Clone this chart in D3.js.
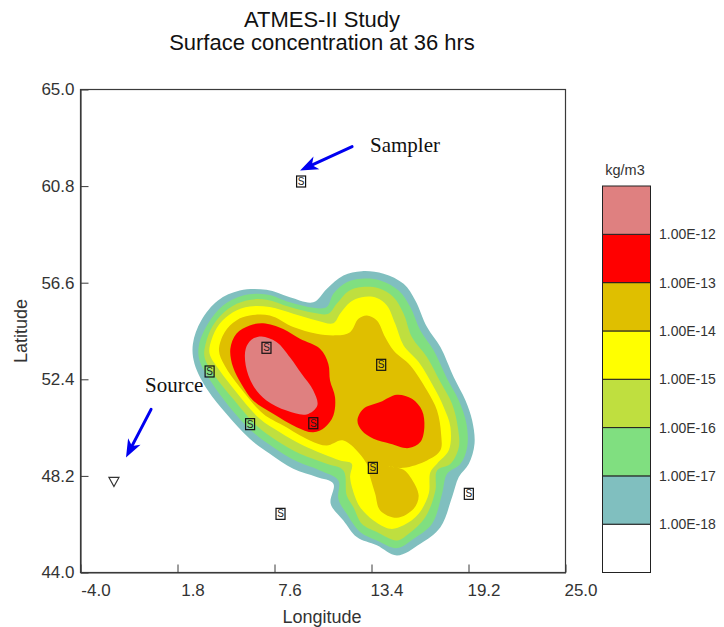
<!DOCTYPE html>
<html><head><meta charset="utf-8">
<script src="https://cdn.jsdelivr.net/npm/d3@7"></script>
<style>html,body{margin:0;background:#fff}svg{display:block}</style></head>
<body><svg id="c" width="724" height="627"></svg>
<script>
const lonTicks=[-4,1.8,7.6,13.4,19.2,25];
const latTicks=[44,48.2,52.4,56.6,60.8,65];
const levelColors=["#ffffff","#80bfbf","#80df80","#bfdf3f","#ffff00","#dfbf00","#ff0000","#df8080"];
const levelLabels=["1.00E-18","1.00E-17","1.00E-16","1.00E-15","1.00E-14","1.00E-13","1.00E-12"];
const contour18=[[12.82,57.10],[14.12,56.99],[15.32,56.55],[16.02,55.83],[16.72,54.67],[17.52,53.80],[18.32,52.49],[19.02,51.48],[19.42,50.61],[19.56,49.60],[19.22,48.73],[18.62,48.15],[18.22,47.28],[17.52,45.97],[16.32,45.25],[14.92,44.74],[13.72,45.18],[12.52,45.54],[11.72,46.26],[10.96,46.99],[11.12,47.86],[10.12,48.15],[8.72,48.51],[7.32,49.16],[6.12,49.81],[4.72,50.90],[3.62,51.91],[2.82,53.07],[2.72,53.94],[3.22,54.96],[4.22,55.83],[5.52,56.26],[7.12,56.29],[8.52,55.97],[9.92,55.75],[10.72,56.33],[11.72,56.91]];
const contour17=[[12.82,56.77],[13.92,56.70],[15.02,56.26],[15.72,55.54],[16.32,54.52],[17.12,53.65],[17.92,52.42],[18.62,51.48],[19.08,50.46],[19.12,49.45],[18.72,48.73],[17.92,48.29],[17.62,47.42],[17.02,46.12],[15.92,45.47],[14.92,45.06],[13.72,45.39],[12.72,45.76],[11.92,46.55],[11.42,47.20],[11.42,48.00],[10.32,48.44],[8.92,48.84],[7.52,49.45],[6.32,50.10],[4.92,51.19],[3.82,52.28],[3.12,53.22],[3.08,53.87],[3.62,54.81],[4.52,55.61],[5.72,56.04],[7.12,56.09],[8.52,55.75],[9.92,55.51],[10.72,55.54],[11.12,56.12],[11.92,56.62]];
const contour16=[[12.82,56.41],[13.82,56.36],[14.72,55.97],[15.32,55.25],[15.82,54.23],[16.72,53.36],[17.52,52.28],[18.22,51.33],[18.56,50.32],[18.62,49.45],[18.12,48.73],[17.32,48.44],[17.22,47.57],[16.62,46.41],[15.62,45.68],[14.92,45.39],[13.72,45.76],[12.82,46.12],[12.32,46.84],[11.92,47.35],[11.72,48.44],[10.72,48.73],[9.12,49.16],[7.72,49.74],[6.52,50.39],[5.12,51.55],[4.02,52.57],[3.42,53.36],[3.48,53.94],[3.92,54.74],[4.82,55.46],[5.92,55.83],[7.12,55.86],[8.52,55.54],[9.92,55.29],[10.82,55.25],[11.32,55.68],[12.02,56.23]];
const contour15=[[12.82,55.97],[13.72,55.94],[14.32,55.61],[14.82,54.81],[15.32,53.87],[16.22,53.15],[17.12,52.06],[17.72,51.19],[18.12,50.32],[18.02,49.31],[17.32,48.73],[16.92,48.36],[16.82,47.42],[16.22,46.55],[15.32,46.05],[14.52,45.90],[13.52,46.26],[12.72,46.84],[12.42,47.28],[12.12,48.15],[12.22,48.73],[11.52,48.87],[9.32,49.52],[7.92,50.10],[6.72,50.68],[5.32,51.84],[4.32,52.78],[3.72,53.51],[3.82,54.09],[4.32,54.81],[5.12,55.32],[6.12,55.57],[7.32,55.54],[8.72,55.25],[10.12,54.96],[11.12,54.84],[11.52,55.25],[12.12,55.75]];
const contour14=[[13.12,55.17],[13.72,54.96],[14.22,54.23],[14.72,53.65],[15.72,53.00],[16.72,51.91],[17.32,51.04],[17.56,50.03],[17.52,49.31],[16.72,48.87],[15.32,48.55],[14.42,48.62],[15.32,48.47],[15.72,48.15],[16.22,47.35],[15.92,46.77],[14.92,46.38],[13.92,46.70],[13.62,47.42],[13.32,48.15],[13.12,48.73],[11.72,49.74],[10.72,49.52],[9.72,49.74],[8.12,50.39],[6.92,50.90],[5.52,52.06],[4.62,53.00],[4.28,53.65],[4.62,54.45],[5.32,54.96],[6.12,55.17],[7.32,55.17],[8.72,54.67],[10.12,54.38],[11.32,54.31],[12.12,54.45],[12.62,55.03]];
const contour13a=[[6.92,54.84],[8.12,54.59],[9.12,54.16],[10.32,53.73],[10.82,53.07],[10.92,52.35],[11.22,51.62],[11.12,50.83],[10.62,50.32],[9.92,50.10],[8.92,50.32],[7.52,50.90],[6.32,51.48],[5.62,52.20],[5.12,52.93],[4.96,53.73],[5.32,54.38],[6.12,54.74]];
const contour13b=[[14.92,51.73],[15.82,51.55],[16.42,51.04],[16.56,50.32],[16.32,49.67],[15.62,49.41],[14.52,49.60],[13.52,49.81],[12.82,50.17],[12.56,50.61],[12.92,51.12],[13.92,51.41]];
const contour12=[[6.82,54.26],[7.72,54.02],[8.52,53.36],[9.22,52.64],[9.92,51.91],[10.16,51.26],[9.52,50.87],[8.32,51.04],[7.12,51.48],[6.32,52.13],[5.88,53.00],[5.88,53.73],[6.22,54.12]];
const samplers=[[9.19,61.0],[7.12,53.77],[3.72,52.74],[13.98,53.03],[6.14,50.45],[9.92,50.49],[13.48,48.55],[19.22,47.42],[7.96,46.55]];
const source=[-2.0,47.96];
const samplerArrow=[[12.24,62.52],[9.13,61.48]];
const sourceArrow=[[0.22,51.09],[-1.28,49.0]];

const svg=d3.select("#c");
const x=d3.scaleLinear().domain([-4,25]).range([80.5,565.5]);
const y=d3.scaleLinear().domain([44,65]).range([572.5,89.5]);
const ink="#3a3a3a";
const txt="#333";
const sans="'Liberation Sans',Arial,sans-serif";
const serif="'Liberation Serif','Times New Roman',serif";

svg.append("g").attr("font-family",sans).attr("fill","#111").attr("text-anchor","middle").attr("font-size",22)
  .selectAll("text").data(["ATMES-II Study","Surface concentration at 36 hrs"]).join("text")
  .attr("x",322).attr("y",(d,i)=>27+i*23).text(d=>d);

const line=d3.line().x(d=>x(d[0])).y(d=>y(d[1])).curve(d3.curveCatmullRomClosed.alpha(0.5));
const layers=[[contour18,1],[contour17,2],[contour16,3],[contour15,4],[contour14,5],[contour13a,6],[contour13b,6],[contour12,7]];
svg.append("g").selectAll("path").data(layers).join("path")
  .attr("d",d=>line(d[0])).attr("fill",d=>levelColors[d[1]]);

svg.append("rect").attr("x",x(-4)).attr("y",y(65)).attr("width",x(25)-x(-4)).attr("height",y(44)-y(65))
  .attr("fill","none").attr("stroke",ink).attr("stroke-width",1.2);

const fmt=d=>d.toFixed(1);
const gx=svg.append("g").attr("transform",`translate(0,${y(44)})`)
  .call(d3.axisBottom(x).tickValues(lonTicks).tickFormat(fmt).tickSizeInner(-8).tickSizeOuter(0));
gx.selectAll("text").attr("dx",15).attr("y",11);
const gy=svg.append("g").attr("transform",`translate(${x(-4)},0)`)
  .call(d3.axisLeft(y).tickValues(latTicks).tickFormat(fmt).tickSizeInner(-8).tickSizeOuter(0));
gy.selectAll("text").attr("x",-6);
svg.selectAll(".domain").attr("stroke",ink).attr("stroke-width",1.2);
svg.selectAll(".tick line").attr("stroke",ink);
svg.selectAll(".tick text").attr("font-family",sans).attr("font-size",17).attr("fill",txt);

svg.append("text").attr("x",322).attr("y",623).attr("text-anchor","middle").attr("font-family",sans).attr("font-size",18).attr("fill",txt).text("Longitude");
svg.append("text").attr("transform","translate(27,331) rotate(-90)").attr("text-anchor","middle").attr("font-family",sans).attr("font-size",18).attr("fill",txt).text("Latitude");

const sam=svg.append("g").selectAll("g").data(samplers).join("g")
  .attr("transform",d=>`translate(${x(d[0])},${y(d[1])})`);
sam.append("rect").attr("x",-4.5).attr("y",-5.5).attr("width",9).attr("height",11).attr("fill","none").attr("stroke","#111").attr("stroke-width",1.2);
sam.append("text").attr("text-anchor","middle").attr("y",3.5).attr("font-family",sans).attr("font-size",10).attr("fill","#222").text("S");

svg.append("path").datum(source).attr("transform",d=>`translate(${x(d[0])},${y(d[1])})`)
  .attr("d","M-5,-4H5L0,5Z").attr("fill","#fff").attr("stroke","#333").attr("stroke-width",1.2);

function arrow(a){
  const x0=x(a[0][0]),y0=y(a[0][1]),x1=x(a[1][0]),y1=y(a[1][1]);
  const ang=Math.atan2(y1-y0,x1-x0),L=18,W=7,N=13;
  const ux=Math.cos(ang),uy=Math.sin(ang);
  svg.append("line").attr("x1",x0).attr("y1",y0).attr("x2",x1-ux*8).attr("y2",y1-uy*8).attr("stroke","#0000f0").attr("stroke-width",3).attr("stroke-linecap","round");
  const pts=[[x1,y1],[x1-ux*L-uy*W,y1-uy*L+ux*W],[x1-ux*N,y1-uy*N],[x1-ux*L+uy*W,y1-uy*L-ux*W]];
  svg.append("path").attr("d","M"+pts.map(p=>p.join(",")).join("L")+"Z").attr("fill","#0000f0");
}
arrow(samplerArrow);arrow(sourceArrow);
svg.append("text").attr("x",370).attr("y",152).attr("font-family",serif).attr("font-size",21).attr("fill","#111").text("Sampler");
svg.append("text").attr("x",145).attr("y",392).attr("font-family",serif).attr("font-size",21).attr("fill","#111").text("Source");

const leg=d3.scaleBand().domain(d3.range(8)).range([572.5,186]);
svg.append("g").selectAll("rect").data(levelColors).join("rect")
  .attr("x",602.5).attr("width",48).attr("y",(d,i)=>leg(i)).attr("height",leg.bandwidth())
  .attr("fill",d=>d).attr("stroke","#222").attr("stroke-width",1);
svg.append("g").selectAll("text").data(levelLabels).join("text")
  .attr("x",659).attr("y",(d,i)=>leg(i)+5).attr("font-family",sans).attr("font-size",14).attr("fill",txt).text(d=>d);
svg.append("text").attr("x",625).attr("y",175).attr("text-anchor","middle").attr("font-family",sans).attr("font-size",14.5).attr("fill",txt).text("kg/m3");
</script></body></html>
